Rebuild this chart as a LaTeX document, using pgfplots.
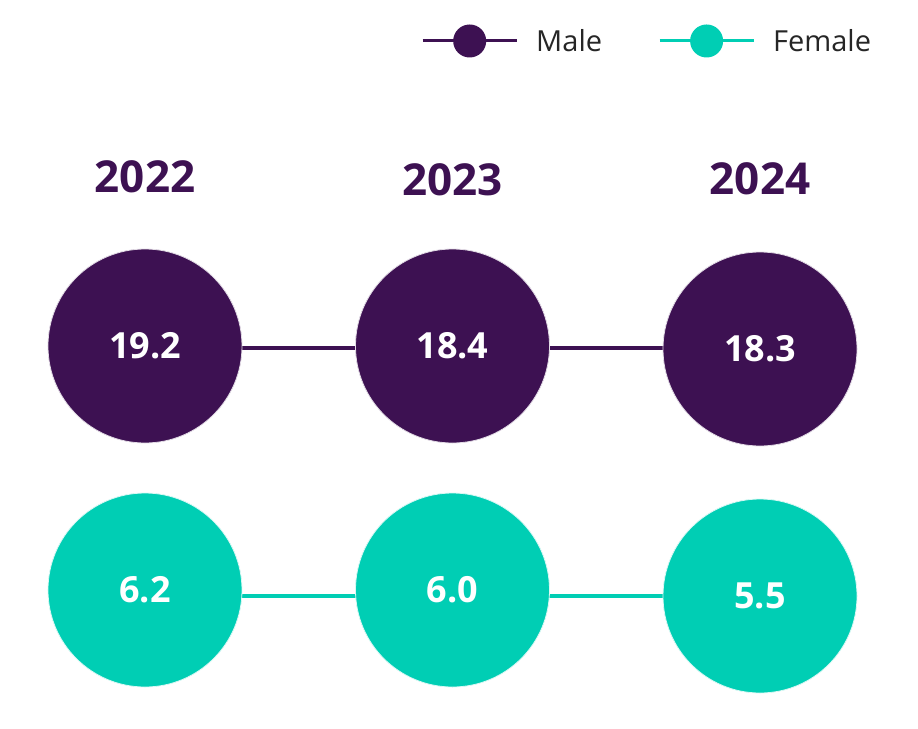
\documentclass[border=0pt]{standalone}
\usepackage{pgfplots}
\pgfplotsset{compat=1.18}
\usepackage{pgfplotstable}
\usepackage{fontspec}
\setmainfont{Open Sans}
\definecolor{male}{HTML}{3D1152}
\definecolor{female}{HTML}{00CEB4}
\definecolor{legtext}{HTML}{262626}

% year, circle centre (px from top), row line (px from top), value
\pgfplotstableread{
year pos line value
2022 346 348 19.2
2023 346 348 18.4
2024 349 348 18.3
}\maletable
\pgfplotstableread{
year pos line value
2022 590 596 6.2
2023 590 596 6.0
2024 596 596 5.5
}\femaletable

\begin{document}
\begin{tikzpicture}
\begin{axis}[
    scale only axis,
    width=918pt, height=728pt,
    xmin=2021.5285, xmax=2024.5138,
    ymin=0, ymax=728, y dir=reverse,
    hide axis, clip=false,
    legend style={at={(rel axis cs:0.4586,0.9437)}, anchor=west,
        draw=none, fill=none, inner sep=0pt,
        font=\fontsize{29}{32}\selectfont\color{legtext},
        /tikz/every odd column/.append style={column sep=16pt},
        /tikz/every even column/.append style={column sep=54pt}},
    legend columns=2,
    legend image code/.code={
        \draw[#1, mark=none] (0pt,0pt) -- (94pt,0pt);
        \fill[#1] (47pt,0pt) circle (15pt);
    },
    nodes near coords,
    point meta=explicit symbolic,
    every node near coord/.append style={anchor=center, text=white,
        font=\fontsize{36}{40}\selectfont\bfseries},
]
\path (rel axis cs:0,0) rectangle (rel axis cs:1,1);

\addplot[male, line width=3.5pt, no marks, nodes near coords={}, forget plot]
    table[x=year, y=line] {\maletable};
\addplot[female, line width=3.5pt, no marks, nodes near coords={}, forget plot]
    table[x=year, y=line] {\femaletable};

\addplot[only marks, mark=*, mark size=97pt, color=male,
    mark options={draw=white!85!male, line width=0.8pt}, forget plot]
    table[x=year, y=pos, meta=value] {\maletable};
\addplot[only marks, mark=*, mark size=97pt, color=female,
    mark options={draw=white!85!female, line width=0.8pt}, forget plot]
    table[x=year, y=pos, meta=value] {\femaletable};

\addlegendimage{male, line width=3pt}
\addlegendentry{Male}
\addlegendimage{female, line width=3pt}
\addlegendentry{Female}

\node[text=male, font=\fontsize{44}{48}\selectfont\bfseries] at (axis cs:2022,177) {2022};
\node[text=male, font=\fontsize{44}{48}\selectfont\bfseries] at (axis cs:2023,180) {2023};
\node[text=male, font=\fontsize{44}{48}\selectfont\bfseries] at (axis cs:2024,179) {2024};
\end{axis}
\end{tikzpicture}
\end{document}
